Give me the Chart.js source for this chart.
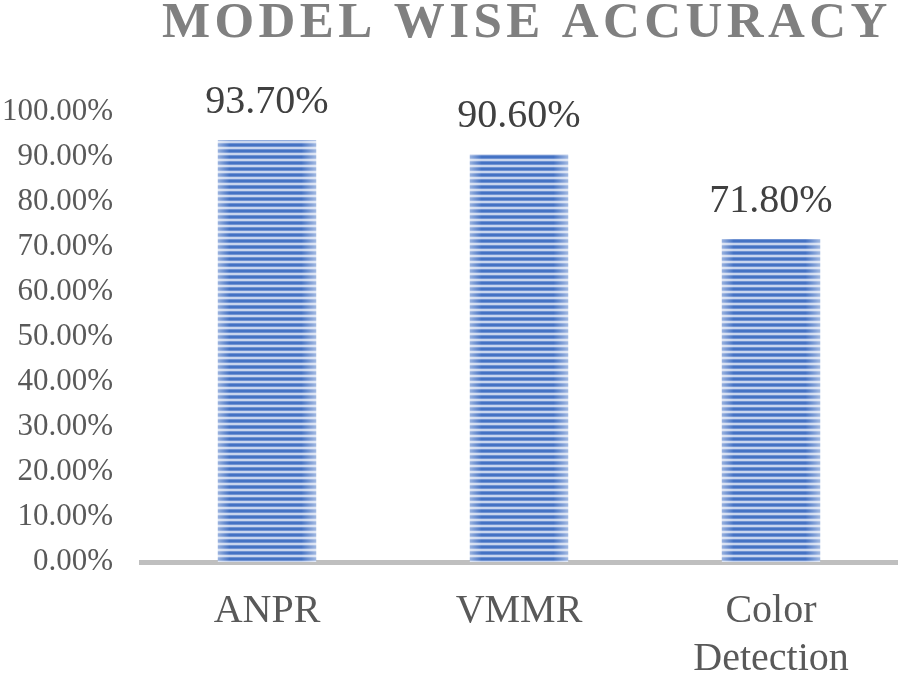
<!DOCTYPE html>
<html>
<head>
<meta charset="utf-8">
<script src="https://cdn.jsdelivr.net/npm/chart.js@4"></script>
<style>
    body { margin: 0; background: #ffffff; }
    #grafico { display: block; }
</style>
</head>
<body>
<canvas id="grafico" width="902" height="678"></canvas>
<script>
// dados do grafico
const tituloGrafico = 'MODEL WISE ACCURACY';
const modelos = ['ANPR', 'VMMR', ['Color', 'Detection']];
const acuracias = [93.7, 90.6, 71.8];
const ticksY = { min: 0, max: 100, passo: 10 };

// padrao listrado das barras
function criarPadrao() {
    const c = document.createElement('canvas');
    c.width = 4;
    c.height = 6;
    const g = c.getContext('2d');
    const cores = ['#4472C4', '#4472C4', '#6F92D2', '#C8D5EE', '#C8D5EE', '#6F92D2'];
    for (let i = 0; i < cores.length; i++) {
        g.fillStyle = cores[i];
        g.fillRect(0, i, 4, 1);
    }
    return g.createPattern(c, 'repeat');
}

// titulo com espacamento entre letras
const pluginTitulo = {
    id: 'tituloEspacado',
    afterDraw(chart) {
        const ctx = chart.ctx;
        ctx.save();
        ctx.font = 'bold 51px "Liberation Serif"';
        ctx.fillStyle = '#808080';
        ctx.letterSpacing = '4.4px';
        ctx.textAlign = 'left';
        ctx.textBaseline = 'alphabetic';
        ctx.fillText(tituloGrafico, 162, 37);
        ctx.restore();
    }
};

// sombreado nas bordas das barras + rotulos de valor
const pluginBarras = {
    id: 'rotulosBarras',
    afterDatasetsDraw(chart) {
        const ctx = chart.ctx;
        const meta = chart.getDatasetMeta(0);
        ctx.save();
        meta.data.forEach(function (barra, i) {
            const x0 = barra.x - barra.width / 2;
            const x1 = barra.x + barra.width / 2;
            const grad = ctx.createLinearGradient(x0, 0, x1, 0);
            grad.addColorStop(0, 'rgba(255,255,255,0.45)');
            grad.addColorStop(0.12, 'rgba(255,255,255,0)');
            grad.addColorStop(0.85, 'rgba(255,255,255,0)');
            grad.addColorStop(1, 'rgba(255,255,255,0.5)');
            ctx.fillStyle = grad;
            ctx.fillRect(x0, barra.y, barra.width, barra.base - barra.y);

            ctx.font = '40px "Liberation Serif"';
            ctx.fillStyle = '#404040';
            ctx.textAlign = 'center';
            ctx.textBaseline = 'alphabetic';
            ctx.fillText(acuracias[i].toFixed(2) + '%', barra.x, barra.y - 27);
        });
        ctx.restore();
    }
};

const dados = {
    labels: modelos,
    datasets: [{
        label: 'Accuracy',
        data: acuracias,
        backgroundColor: criarPadrao(),
        borderWidth: 0,
        barPercentage: 0.39,
        categoryPercentage: 1
    }]
};

const config = {
    type: 'bar',
    data: dados,
    options: {
        responsive: false,
        animation: false,
        layout: { padding: { top: 112, right: 5, bottom: 0, left: 0 } },
        plugins: {
            legend: { display: false },
            tooltip: { enabled: false }
        },
        scales: {
            x: {
                grid: { display: false, drawTicks: false },
                border: { display: true, color: '#BFBFBF', width: 5 },
                ticks: {
                    color: '#595959',
                    font: { family: 'Liberation Serif', size: 40, lineHeight: 1.2 },
                    padding: 25,
                    maxRotation: 0
                },
                afterFit(scale) { scale.height = 116; }
            },
            y: {
                min: ticksY.min,
                max: ticksY.max,
                grid: { display: false, drawTicks: false },
                border: { display: false },
                ticks: {
                    stepSize: ticksY.passo,
                    color: '#595959',
                    font: { family: 'Liberation Serif', size: 31 },
                    padding: 28,
                    callback: function (v) { return v.toFixed(2) + '%'; }
                },
                afterFit(scale) { scale.width = 141; }
            }
        }
    },
    plugins: [pluginBarras, pluginTitulo]
};

let myChart = new Chart(document.getElementById('grafico'), config);
</script>
</body>
</html>
